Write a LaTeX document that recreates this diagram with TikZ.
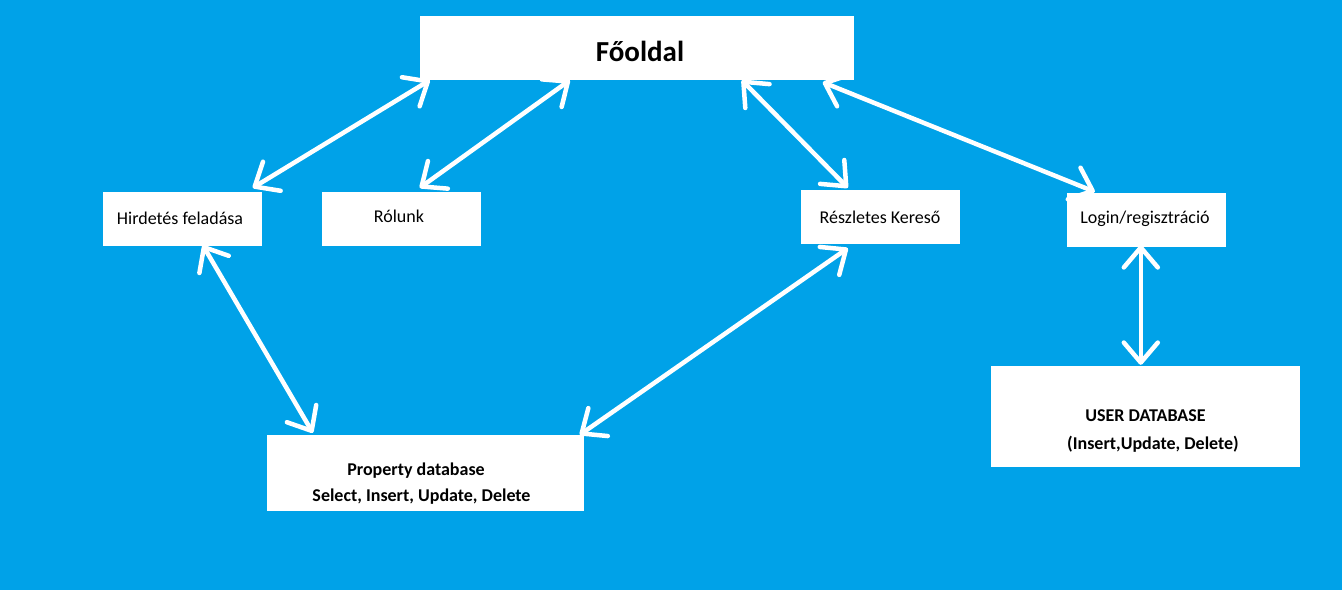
\documentclass[tikz,border=0pt]{standalone}
\usepackage{fontspec}
\setmainfont{Carlito}
\usetikzlibrary{arrows.meta,calc}
\definecolor{paintblue}{RGB}{0,162,232}
\tikzset{
  box/.style={fill=white,draw=none,inner sep=0pt,anchor=center},
  lbl/.style={anchor=base,inner sep=0pt,text=black,font=\fontsize{18}{20}\selectfont},
  blbl/.style={lbl,font=\fontsize{18}{20}\selectfont\bfseries},
  dbl/.style={draw=white,line width=4.5pt,line cap=round,
    {Straight Barb[length=20pt,width=34pt,round]}-{Straight Barb[length=20pt,width=34pt,round]}}
}
\begin{document}
\begin{tikzpicture}[x=1pt,y=-1pt]
\fill[paintblue] (0,0) rectangle (1342,590);
\useasboundingbox (0,0) rectangle (1342,590);
% boxes
\node[box,minimum width=434pt,minimum height=64pt] (fo) at (637,48) {};
\node[box,minimum width=159pt,minimum height=54pt] (hird) at (182.5,219) {};
\node[box,minimum width=159pt,minimum height=54pt] (rol) at (401.5,219) {};
\node[box,minimum width=159pt,minimum height=54pt] (resz) at (880.5,217) {};
\node[box,minimum width=159pt,minimum height=54pt] (login) at (1146.5,220) {};
\node[box,minimum width=317pt,minimum height=76pt] (prop) at (425.5,473) {};
\node[box,minimum width=309pt,minimum height=101pt] (user) at (1145.5,416.5) {};
% labels
\node[blbl,font=\fontsize{29}{32}\selectfont\bfseries] (tfo) at (640,61) {Főoldal};
\node[lbl] (third) at (180,224.3) {Hirdetés feladása};
\node[lbl] (trol) at (399,222.7) {Rólunk};
\node[lbl] (tresz) at (880,223.3) {Részletes Kereső};
\node[lbl] (tlogin) at (1145,223.3) {Login/regisztráció};
\node[blbl] (tprop1) at (416,475.7) {Property database};
\node[blbl] (tprop2) at (421.5,501.7) {Select, Insert, Update, Delete};
\node[blbl] (tuser1) at (1145.5,421) {USER DATABASE};
\node[blbl] (tuser2) at (1153,449) {(Insert,Update, Delete)};
% connectors
\draw[dbl] ($(fo.south west)+(10,0)$) -- ($(hird.north west)+(150,-4)$);
\draw[dbl] ($(fo.south west)+(150,0)$) -- ($(rol.north west)+(98,-4)$);
\draw[dbl] ($(fo.south west)+(322,0)$) -- ($(resz.north west)+(47,-2)$);
\draw[dbl] ($(fo.south west)+(403,2)$) -- ($(login.north west)+(28,-1)$);
\draw[dbl] ($(hird.south west)+(100,-1)$) -- ($(prop.north west)+(46,-2)$);
\draw[dbl] ($(resz.south west)+(47,4)$) -- ($(prop.north west)+(313,0)$);
\draw[dbl] ($(login.south west)+(74,-2)$) -- ($(user.north west)+(150,-1)$);
\end{tikzpicture}
\end{document}
